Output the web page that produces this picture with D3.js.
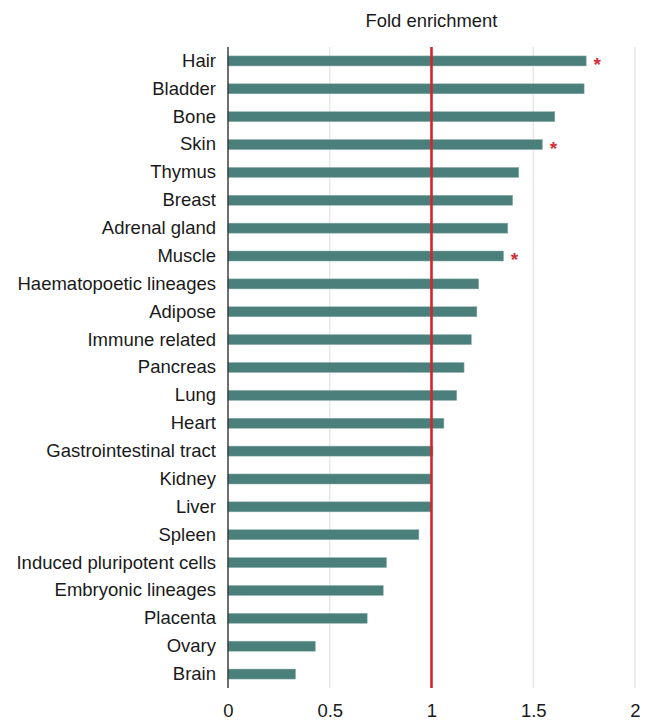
<!DOCTYPE html>
<html>
<head>
<meta charset="utf-8">
<script src="https://cdn.jsdelivr.net/npm/d3@7"></script>
<style>
  body { margin: 0; background: #fff; }
  svg text { font-family: "Liberation Sans", Arial, Helvetica, sans-serif; fill: #1a1a1a; }
</style>
</head>
<body>
<svg id="chart" width="651" height="722"></svg>
<script>
// tissues, top to bottom
let tissues = ["Hair", "Bladder", "Bone", "Skin", "Thymus", "Breast", "Adrenal gland", "Muscle",
    "Haematopoetic lineages", "Adipose", "Immune related", "Pancreas", "Lung", "Heart",
    "Gastrointestinal tract", "Kidney", "Liver", "Spleen", "Induced pluripotent cells",
    "Embryonic lineages", "Placenta", "Ovary", "Brain"];
let foldValues = [1.76, 1.75, 1.606, 1.545, 1.429, 1.399, 1.375, 1.354,
    1.232, 1.223, 1.196, 1.16, 1.124, 1.061,
    1.007, 1.0, 1.0, 0.938, 0.779,
    0.763, 0.684, 0.429, 0.332];
let significant = ["Hair", "Skin", "Muscle"];
let xTicks = [0, 0.5, 1, 1.5, 2];
let xTickLabels = ["0", "0.5", "1", "1.5", "2"];
let referenceValue = 1;

let rows = tissues.map((t, i) => ({ tissue: t, val: foldValues[i] }));

let svg = d3.select("svg#chart");
let plot = { left: 228, right: 635, top: 47, bottom: 688 };

let xScale = d3.scaleLinear().domain([0, 2]).range([plot.left, plot.right]);
let yScale = d3.scaleBand().domain(tissues).range([plot.top, plot.bottom])
    .paddingInner(0.64).paddingOuter(0.32);

// gridlines
svg.append("g")
    .selectAll("line")
    .data(xTicks.filter(d => d > 0))
    .enter().append("line")
    .attr("x1", d => xScale(d)).attr("x2", d => xScale(d))
    .attr("y1", plot.top).attr("y2", plot.bottom)
    .attr("stroke", "#e2e2e2")
    .attr("stroke-width", 1.2);

// bars
svg.append("g")
    .selectAll("rect")
    .data(rows)
    .enter().append("rect")
    .attr("x", xScale(0))
    .attr("y", d => yScale(d.tissue))
    .attr("width", d => xScale(d.val) - xScale(0))
    .attr("height", yScale.bandwidth())
    .attr("fill", "#4a7f7b")
    .attr("stroke", "#8fb3b0")
    .attr("stroke-width", 0.5);

// significance stars
svg.append("g")
    .selectAll("text")
    .data(rows.filter(d => significant.includes(d.tissue)))
    .enter().append("text")
    .attr("x", d => xScale(d.val) + 11)
    .attr("y", d => yScale(d.tissue) + yScale.bandwidth() / 2 + 10)
    .style("text-anchor", "middle")
    .style("font-size", "19px")
    .style("font-weight", "bold")
    .style("fill", "#d3303a")
    .text("*");

// reference line at 1
svg.append("line")
    .attr("x1", xScale(referenceValue)).attr("x2", xScale(referenceValue))
    .attr("y1", plot.top).attr("y2", plot.bottom)
    .attr("stroke", "#d2262e")
    .attr("stroke-width", 2.6);

// y axis line
svg.append("line")
    .attr("x1", xScale(0)).attr("x2", xScale(0))
    .attr("y1", plot.top).attr("y2", plot.bottom)
    .attr("stroke", "#333")
    .attr("stroke-width", 1.4);

// category labels
let yAxis = d3.axisLeft(yScale).tickSize(0).tickPadding(12);
svg.append("g")
    .attr("transform", "translate(" + xScale(0) + ",0)")
    .call(yAxis)
    .call(g => g.select(".domain").remove())
    .selectAll("text")
    .style("font-size", "18.5px")
    .attr("font-family", null);

// x tick labels
let xAxis = d3.axisBottom(xScale).tickValues(xTicks)
    .tickFormat((d, i) => xTickLabels[i]).tickSize(0).tickPadding(16);
svg.append("g")
    .attr("transform", "translate(0," + plot.bottom + ")")
    .call(xAxis)
    .call(g => g.select(".domain").remove())
    .selectAll("text")
    .style("font-size", "18.5px")
    .attr("font-family", null);

// title
svg.append("text")
    .attr("x", xScale(1))
    .attr("y", 26.5)
    .style("text-anchor", "middle")
    .style("font-size", "18.4px")
    .text("Fold enrichment");
</script>
</body>
</html>
